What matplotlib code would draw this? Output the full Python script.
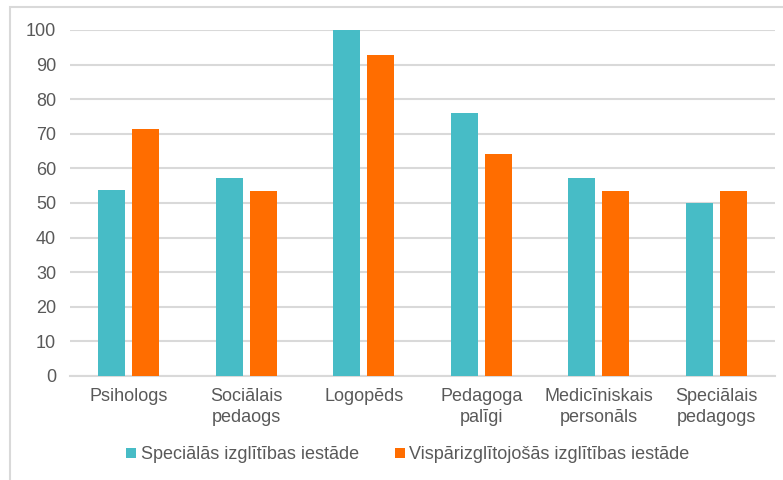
import numpy as np
import matplotlib.pyplot as plt
from matplotlib.patches import Rectangle

plt.rcParams['font.family'] = ['Liberation Sans', 'DejaVu Sans']

# data
categories = ['Psihologs', 'Sociālais\npedaogs', 'Logopēds', 'Pedagoga\npalīgi',
              'Medicīniskais\npersonāls', 'Speciālais\npedagogs']
special = [53.8, 57.1, 100.0, 76.0, 57.1, 50.0]
general = [71.4, 53.5, 92.8, 64.3, 53.5, 53.5]
series_names = ['Speciālās izglītības iestāde', 'Vispārizglītojošās izglītības iestāde']

teal = '#47BCC6'
orange = '#FF6D00'
grey_text = '#595959'
fs = 13

fig = plt.figure(figsize=(7.83, 4.8), dpi=100)
ax = fig.add_axes([0.0894, 0.2167, 0.9006, 0.7208])

x = np.arange(len(categories))
w = 0.23
ax.bar(x - 0.145, special, w, color=teal, label=series_names[0], zorder=3)
ax.bar(x + 0.145, general, w, color=orange, label=series_names[1], zorder=3)

ax.set_xlim(-0.5, len(categories) - 0.5)
ax.set_ylim(0, 100)
ax.set_yticks(np.arange(0, 101, 10))
ax.yaxis.grid(True, color='#D9D9D9', linewidth=1.5, zorder=0)
ax.set_xticks(x)
ax.set_xticklabels(categories, fontsize=fs, color=grey_text, linespacing=1.3)
ax.tick_params(axis='y', labelsize=fs, labelcolor=grey_text, length=0, pad=10)
ax.tick_params(axis='x', length=0, pad=9)
for s in ['top', 'right', 'left']:
    ax.spines[s].set_visible(False)
ax.spines['bottom'].set_color('#D9D9D9')
ax.spines['bottom'].set_linewidth(1.5)

ax.legend(loc='center', bbox_to_anchor=(0.479, -0.228), ncol=2, frameon=False,
          fontsize=fs, labelcolor=grey_text, handlelength=0.55, handleheight=0.55,
          handletextpad=0.25, columnspacing=2.0, borderaxespad=0)

# light frame around the whole chart
fig.patches.append(Rectangle((10 / 783, -0.05), 1.0, 1 - 7 / 480 + 0.05,
                             transform=fig.transFigure, fill=False,
                             edgecolor='#D9D9D9', linewidth=1.5))

fig.savefig('out.png', dpi=100)
